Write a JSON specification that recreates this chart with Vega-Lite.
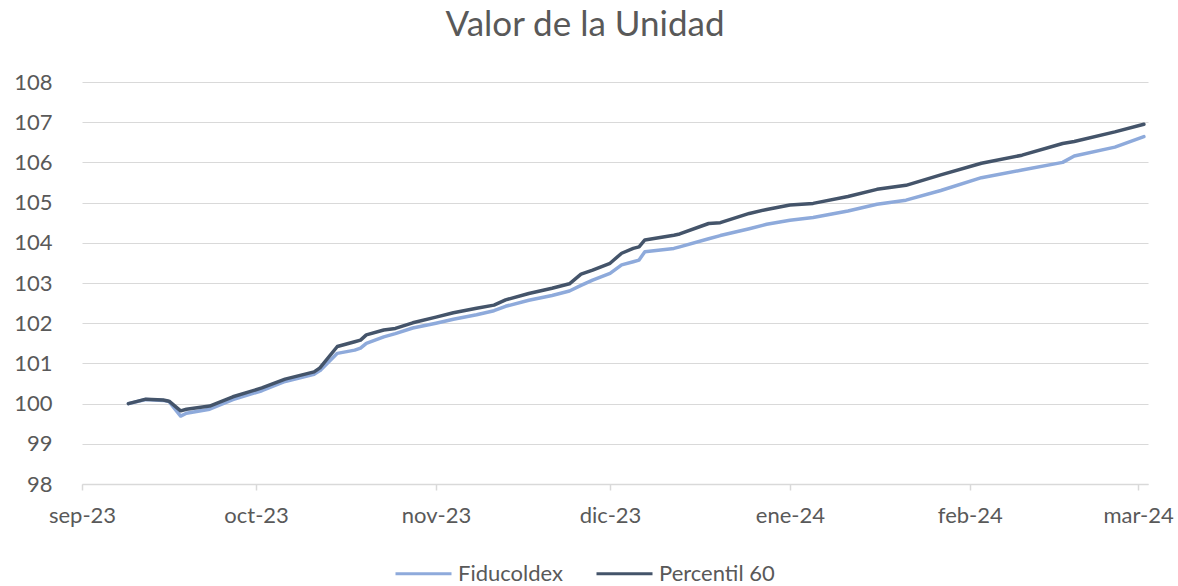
{
  "$schema": "https://vega.github.io/schema/vega-lite/v6.json",
  "width": 1066,
  "height": 402,
  "autosize": {"type": "none"},
  "padding": {"left": 82, "top": 82, "right": 30, "bottom": 102},
  "background": "white",
  "config": {
    "view": {"stroke": null},
    "font": "Lato"
  },
  "title": {
    "text": "Valor de la Unidad",
    "font": "Lato",
    "fontSize": 35,
    "fontWeight": "normal",
    "color": "#595959",
    "anchor": "middle",
    "dx": -30,
    "offset": 28
  },
  "data": {
    "values": [
      {"fecha": "2023-09-09T00:00:00", "Fiducoldex": 100.00, "Percentil 60": 100.00},
      {"fecha": "2023-09-12T00:00:00", "Fiducoldex": 100.10, "Percentil 60": 100.11},
      {"fecha": "2023-09-15T00:00:00", "Fiducoldex": 100.08, "Percentil 60": 100.09},
      {"fecha": "2023-09-16T00:00:00", "Fiducoldex": 100.05, "Percentil 60": 100.06},
      {"fecha": "2023-09-18T00:00:00", "Fiducoldex": 99.69, "Percentil 60": 99.82},
      {"fecha": "2023-09-19T00:00:00", "Fiducoldex": 99.76, "Percentil 60": 99.86},
      {"fecha": "2023-09-23T00:00:00", "Fiducoldex": 99.86, "Percentil 60": 99.94},
      {"fecha": "2023-09-27T00:00:00", "Fiducoldex": 100.10, "Percentil 60": 100.17},
      {"fecha": "2023-10-02T00:00:00", "Fiducoldex": 100.32, "Percentil 60": 100.39},
      {"fecha": "2023-10-06T00:00:00", "Fiducoldex": 100.55, "Percentil 60": 100.61},
      {"fecha": "2023-10-11T00:00:00", "Fiducoldex": 100.73, "Percentil 60": 100.79},
      {"fecha": "2023-10-12T00:00:00", "Fiducoldex": 100.82, "Percentil 60": 100.89},
      {"fecha": "2023-10-15T00:00:00", "Fiducoldex": 101.25, "Percentil 60": 101.42},
      {"fecha": "2023-10-18T00:00:00", "Fiducoldex": 101.33, "Percentil 60": 101.54},
      {"fecha": "2023-10-19T00:00:00", "Fiducoldex": 101.38, "Percentil 60": 101.58},
      {"fecha": "2023-10-20T00:00:00", "Fiducoldex": 101.50, "Percentil 60": 101.71},
      {"fecha": "2023-10-23T00:00:00", "Fiducoldex": 101.66, "Percentil 60": 101.83},
      {"fecha": "2023-10-25T00:00:00", "Fiducoldex": 101.74, "Percentil 60": 101.87},
      {"fecha": "2023-10-28T00:00:00", "Fiducoldex": 101.88, "Percentil 60": 102.01},
      {"fecha": "2023-11-01T00:00:00", "Fiducoldex": 102.00, "Percentil 60": 102.15},
      {"fecha": "2023-11-04T00:00:00", "Fiducoldex": 102.10, "Percentil 60": 102.26},
      {"fecha": "2023-11-08T00:00:00", "Fiducoldex": 102.21, "Percentil 60": 102.37},
      {"fecha": "2023-11-11T00:00:00", "Fiducoldex": 102.31, "Percentil 60": 102.45},
      {"fecha": "2023-11-13T00:00:00", "Fiducoldex": 102.42, "Percentil 60": 102.58},
      {"fecha": "2023-11-17T00:00:00", "Fiducoldex": 102.57, "Percentil 60": 102.74},
      {"fecha": "2023-11-21T00:00:00", "Fiducoldex": 102.69, "Percentil 60": 102.87},
      {"fecha": "2023-11-24T00:00:00", "Fiducoldex": 102.80, "Percentil 60": 102.98},
      {"fecha": "2023-11-26T00:00:00", "Fiducoldex": 102.94, "Percentil 60": 103.22},
      {"fecha": "2023-11-28T00:00:00", "Fiducoldex": 103.07, "Percentil 60": 103.32},
      {"fecha": "2023-12-01T00:00:00", "Fiducoldex": 103.24, "Percentil 60": 103.49},
      {"fecha": "2023-12-03T00:00:00", "Fiducoldex": 103.45, "Percentil 60": 103.74},
      {"fecha": "2023-12-05T00:00:00", "Fiducoldex": 103.53, "Percentil 60": 103.86},
      {"fecha": "2023-12-06T00:00:00", "Fiducoldex": 103.57, "Percentil 60": 103.90},
      {"fecha": "2023-12-07T00:00:00", "Fiducoldex": 103.78, "Percentil 60": 104.07},
      {"fecha": "2023-12-12T00:00:00", "Fiducoldex": 103.86, "Percentil 60": 104.19},
      {"fecha": "2023-12-13T00:00:00", "Fiducoldex": 103.90, "Percentil 60": 104.22},
      {"fecha": "2023-12-18T00:00:00", "Fiducoldex": 104.10, "Percentil 60": 104.48},
      {"fecha": "2023-12-20T00:00:00", "Fiducoldex": 104.18, "Percentil 60": 104.50},
      {"fecha": "2023-12-25T00:00:00", "Fiducoldex": 104.35, "Percentil 60": 104.73},
      {"fecha": "2023-12-28T00:00:00", "Fiducoldex": 104.46, "Percentil 60": 104.83},
      {"fecha": "2024-01-01T00:00:00", "Fiducoldex": 104.56, "Percentil 60": 104.94},
      {"fecha": "2024-01-05T00:00:00", "Fiducoldex": 104.63, "Percentil 60": 104.98},
      {"fecha": "2024-01-11T00:00:00", "Fiducoldex": 104.79, "Percentil 60": 105.15},
      {"fecha": "2024-01-16T00:00:00", "Fiducoldex": 104.96, "Percentil 60": 105.33},
      {"fecha": "2024-01-21T00:00:00", "Fiducoldex": 105.06, "Percentil 60": 105.43},
      {"fecha": "2024-01-27T00:00:00", "Fiducoldex": 105.30, "Percentil 60": 105.69},
      {"fecha": "2024-02-03T00:00:00", "Fiducoldex": 105.62, "Percentil 60": 105.98},
      {"fecha": "2024-02-10T00:00:00", "Fiducoldex": 105.81, "Percentil 60": 106.18},
      {"fecha": "2024-02-17T00:00:00", "Fiducoldex": 106.00, "Percentil 60": 106.47},
      {"fecha": "2024-02-19T00:00:00", "Fiducoldex": 106.16, "Percentil 60": 106.52},
      {"fecha": "2024-02-26T00:00:00", "Fiducoldex": 106.38, "Percentil 60": 106.76},
      {"fecha": "2024-03-02T00:00:00", "Fiducoldex": 106.64, "Percentil 60": 106.95}
    ]
  },
  "transform": [
    {"fold": ["Fiducoldex", "Percentil 60"], "as": ["serie", "valor"]}
  ],
  "mark": {"type": "line", "strokeWidth": 3.5, "strokeJoin": "round", "strokeCap": "round"},
  "encoding": {
    "x": {
      "field": "fecha",
      "type": "temporal",
      "scale": {
        "domain": [
          {"year": 2023, "month": 9, "date": 1},
          {"year": 2024, "month": 3, "date": 2, "hours": 17}
        ],
        "nice": false
      },
      "axis": {
        "title": null,
        "grid": false,
        "values": [
          {"year": 2023, "month": 9, "date": 1},
          {"year": 2023, "month": 10, "date": 1},
          {"year": 2023, "month": 11, "date": 1},
          {"year": 2023, "month": 12, "date": 1},
          {"year": 2024, "month": 1, "date": 1},
          {"year": 2024, "month": 2, "date": 1},
          {"year": 2024, "month": 3, "date": 1}
        ],
        "labelExpr": "['ene','feb','mar','abr','may','jun','jul','ago','sep','oct','nov','dic'][month(datum.value)] + '-' + timeFormat(datum.value, '%y')",
        "domainColor": "#d9d9d9",
        "domainWidth": 1.5,
        "tickColor": "#d9d9d9",
        "tickWidth": 1.5,
        "tickSize": 6,
        "labelFont": "Lato",
        "labelFontSize": 22,
        "labelColor": "#595959",
        "labelPadding": 15,
        "labelFlush": false,
        "labelOverlap": false
      }
    },
    "y": {
      "field": "valor",
      "type": "quantitative",
      "scale": {"domain": [98, 108], "nice": false, "zero": false},
      "axis": {
        "title": null,
        "values": [98, 99, 100, 101, 102, 103, 104, 105, 106, 107, 108],
        "domain": false,
        "ticks": false,
        "gridColor": "#d9d9d9",
        "gridWidth": 1,
        "labelFont": "Lato",
        "labelFontSize": 22,
        "labelColor": "#595959",
        "labelPadding": 30
      }
    },
    "color": {
      "field": "serie",
      "type": "nominal",
      "scale": {"domain": ["Fiducoldex", "Percentil 60"], "range": ["#8eaadb", "#44546a"]},
      "legend": {
        "title": null,
        "orient": "none",
        "direction": "horizontal",
        "legendX": 312,
        "legendY": 462,
        "symbolType": "stroke",
        "symbolSize": 3136,
        "symbolStrokeWidth": 3,
        "labelFont": "Lato",
        "labelFontSize": 22,
        "labelColor": "#595959",
        "labelOffset": 5,
        "columnPadding": 27
      }
    }
  }
}
